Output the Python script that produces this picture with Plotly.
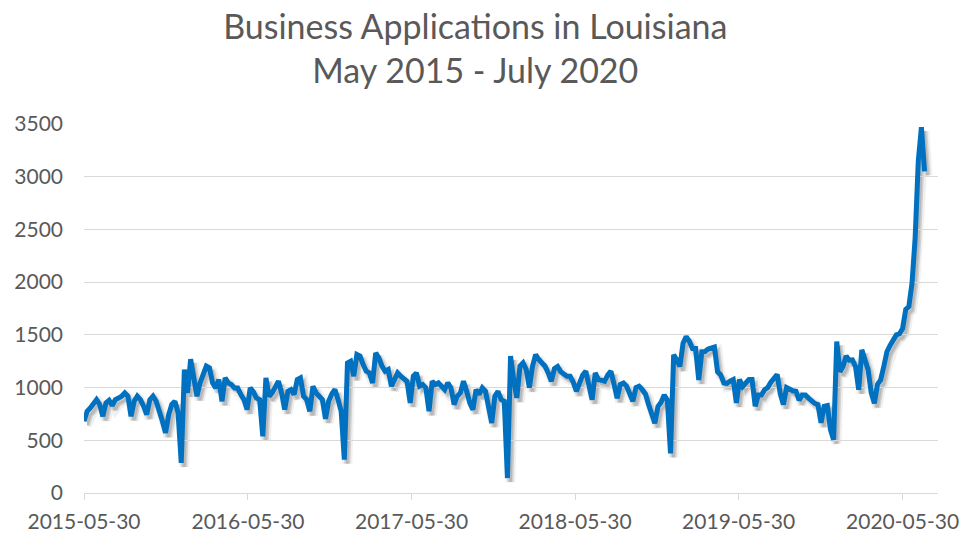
import pandas as pd
import plotly.graph_objects as go

# Weekly business applications filed in Louisiana (week-ending Saturdays)
start_week = "2015-05-30"
applications = [
    680, 775, 807, 855, 886, 840, 728, 855, 880, 830,
    886, 900, 918, 950, 918, 728, 870, 918, 886, 823,
    744, 886, 918, 870, 790, 680, 570, 744, 840, 870,
    760, 285, 1170, 950, 1270, 1076, 918, 1044, 1139, 1203,
    1187, 1044, 997, 1076, 870, 1092, 1044, 1028, 997, 997,
    934, 886, 791, 997, 960, 900, 886, 538, 1092, 918,
    950, 997, 1060, 950, 791, 965, 981, 934, 1076, 1092,
    918, 886, 775, 1013, 950, 918, 886, 704, 870, 940,
    981, 886, 775, 316, 1234, 1250, 1108, 1313, 1298, 1218,
    1155, 1139, 1044, 1329, 1282, 1203, 1155, 1171, 1013, 1076,
    1139, 1108, 1076, 1060, 855, 1108, 1139, 1013, 1028, 997,
    775, 1060, 1028, 1044, 1013, 981, 1044, 997, 838, 918,
    950, 1060, 965, 855, 791, 981, 934, 997, 965, 791,
    665, 918, 965, 886, 870, 142, 1298, 1076, 902, 1203,
    1234, 1171, 1000, 1203, 1313, 1266, 1234, 1203, 1139, 1060,
    1180, 1200, 1150, 1124, 1108, 1108, 1050, 965, 1060, 1120,
    1155, 1000, 886, 1139, 1076, 1070, 1060, 1120, 1155, 1029,
    900, 1030, 1044, 1013, 940, 870, 1000, 1013, 980, 940,
    839, 760, 661, 820, 860, 930, 880, 376, 1310, 1263,
    1200, 1420, 1484, 1440, 1370, 1370, 1073, 1340, 1342, 1365,
    1373, 1385, 1150, 1120, 1044, 1040, 1060, 1076, 855, 1076,
    1010, 1050, 1076, 1076, 823, 930, 930, 980, 1000, 1050,
    1090, 1124, 940, 839, 1000, 981, 970, 965, 880, 930,
    930, 900, 870, 850, 839, 665, 823, 830, 600, 506,
    1437, 1150, 1200, 1300, 1260, 1263, 1199, 980, 1358, 1250,
    1168, 950, 851, 1030, 1073, 1200, 1340, 1400, 1450, 1500,
    1510, 1560, 1740, 1770, 1990, 2420, 3150, 3470, 3050,
]
week_dates = pd.date_range(start=start_week, periods=len(applications), freq="7D")

x_tick_dates = ["2015-05-30", "2016-05-30", "2017-05-30",
                "2018-05-30", "2019-05-30", "2020-05-30"]
y_ticks = [0, 500, 1000, 1500, 2000, 2500, 3000, 3500]
x_range = ["2015-05-30", "2020-08-17"]
y_range = [0, 3500]

title_lines = ["Business Applications in Louisiana", "May 2015 - July 2020"]

FONT = "Lato"
TEXT_GREY = "#595959"
GRID_GREY = "#d9d9d9"
LINE_BLUE = "#0070C0"

# Plot-area geometry (px) and the drop-shadow offset
PLOT_W, PLOT_H = 854, 369
SHADOW_DX, SHADOW_DY = 3, 4
FULL_W, FULL_H = PLOT_W + SHADOW_DX, PLOT_H + SHADOW_DY

fig = go.Figure()

# Drop shadow: same series on a twin pair of hidden axes nudged right/down
for width, alpha in [(10, 0.06), (6, 0.12), (3, 0.12)]:
    fig.add_trace(go.Scatter(
        x=week_dates, y=applications, mode="lines",
        line=dict(color=f"rgba(0,0,0,{alpha})", width=width),
        hoverinfo="skip", xaxis="x", yaxis="y",
    ))

# Main series
fig.add_trace(go.Scatter(
    x=week_dates, y=applications, mode="lines",
    line=dict(color=LINE_BLUE, width=5),
    hoverinfo="x+y", xaxis="x2", yaxis="y2",
))

fig.update_layout(
    width=970,
    height=536,
    margin=dict(l=84, r=970 - 84 - FULL_W, t=124, b=536 - 124 - FULL_H),
    paper_bgcolor="white",
    plot_bgcolor="rgba(0,0,0,0)",
    showlegend=False,
    font=dict(family=FONT, color=TEXT_GREY),
    title=dict(
        text="<br>".join(title_lines),
        font=dict(family=FONT, size=34, color=TEXT_GREY),
        xref="container",
        x=0.49,
        xanchor="center",
        yref="container",
        y=0.927,
        yanchor="top",
    ),
    # hidden shadow axes
    xaxis=dict(
        type="date", range=x_range, visible=False, showgrid=False,
        domain=[SHADOW_DX / FULL_W, 1], anchor="y", fixedrange=True,
    ),
    yaxis=dict(
        range=y_range, visible=False, showgrid=False,
        domain=[0, PLOT_H / FULL_H], anchor="x", fixedrange=True,
    ),
    # visible axes
    xaxis2=dict(
        type="date",
        range=x_range,
        domain=[0, PLOT_W / FULL_W],
        anchor="y2",
        tickvals=x_tick_dates,
        ticktext=x_tick_dates,
        showgrid=False,
        showline=True,
        linecolor=GRID_GREY,
        linewidth=1,
        ticks="outside",
        ticklen=6,
        tickcolor=GRID_GREY,
        tickfont=dict(family=FONT, size=21, color=TEXT_GREY),
        ticklabelstandoff=4,
        zeroline=False,
        automargin=False,
    ),
    yaxis2=dict(
        range=y_range,
        domain=[SHADOW_DY / FULL_H, 1],
        anchor="x2",
        tickvals=y_ticks,
        showgrid=True,
        gridcolor=GRID_GREY,
        gridwidth=1,
        showline=False,
        zeroline=False,
        ticks="",
        tickfont=dict(family=FONT, size=21, color=TEXT_GREY),
        ticklabelstandoff=20,
        automargin=False,
    ),
)

fig.write_html("out.html")
